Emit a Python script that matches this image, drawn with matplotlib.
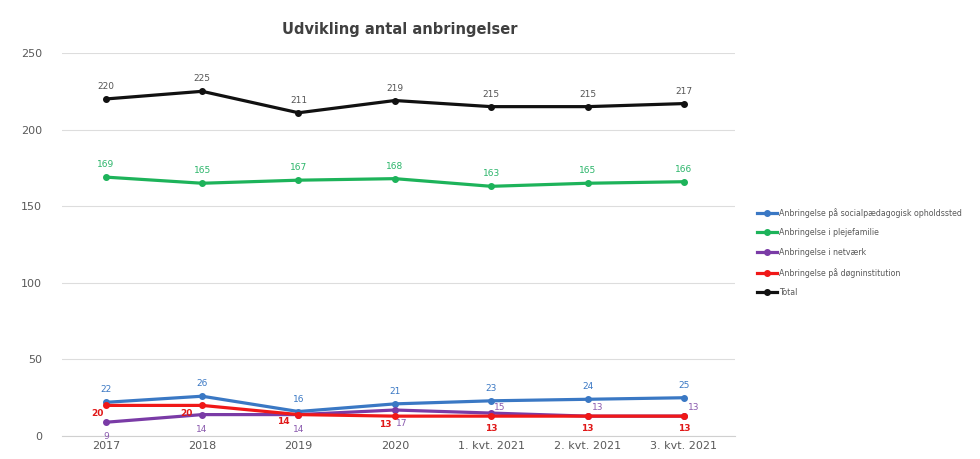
import matplotlib.pyplot as plt

categories = ["2017", "2018", "2019", "2020", "1. kvt. 2021", "2. kvt. 2021", "3. kvt. 2021"]
series_names = [
    "Anbringelse på socialpædagogisk opholdssted",
    "Anbringelse i plejefamilie",
    "Anbringelse i netværk",
    "Anbringelse på døgninstitution",
    "Total",
]
social = [22, 26, 16, 21, 23, 24, 25]
pleje = [169, 165, 167, 168, 163, 165, 166]
netvaerk = [9, 14, 14, 17, 15, 13, 13]
doegn = [20, 20, 14, 13, 13, 13, 13]
total = [220, 225, 211, 219, 215, 215, 217]

colors = ["#3A78C4", "#1DB35A", "#7A3BA6", "#F01818", "#111111"]
label_colors = ["#3A78C4", "#2BB56A", "#8A5AAE", "#E01818", "#555555"]

# label offsets (points) per series per point
above = [(0, 9)] * 7
offsets = [
    above,
    above,
    [(0, -10), (0, -11), (0, -11), (5, -10), (6, 4), (7, 6.5), (7, 6.5)],
    [(-6, -6), (-11, -6), (-11, -5), (-7, -6), (0, -9), (0, -9), (0, -9)],
    above,
]

fig = plt.figure(figsize=(9.8, 4.59), dpi=100)
ax = fig.add_axes([0.063, 0.050, 0.687, 0.8345])

x = list(range(len(categories)))
all_series = [social, pleje, netvaerk, doegn, total]
for i, (name, vals) in enumerate(zip(series_names, all_series)):
    ax.plot(x, vals, color=colors[i], lw=2.3, marker="o", ms=4, label=name, zorder=3)
    for xi, v, off in zip(x, vals, offsets[i]):
        ax.annotate(str(v), (xi, v), xytext=off, textcoords="offset points",
                    ha="center", va="center", fontsize=6.5, color=label_colors[i],
                    fontweight="bold" if i == 3 else "normal", zorder=4)

ax.set_ylim(0, 250)
ax.set_xlim(-0.457, 6.53)
ax.set_yticks(range(0, 251, 50))
ax.set_xticks(x)
ax.set_xticklabels(categories)
ax.grid(axis="y", color="#DDDDDD", lw=0.8)
ax.set_axisbelow(True)
for s in ["top", "right", "left"]:
    ax.spines[s].set_visible(False)
ax.spines["bottom"].set_color("#D0D0D0")
ax.tick_params(axis="both", length=0, labelsize=8, colors="#595959")
ax.tick_params(axis="y", pad=14)

fig.text(0.408, 0.935, "Udvikling antal anbringelser", ha="center", va="center",
         fontsize=10.5, fontweight="bold", color="#404040")

fig.legend(loc="upper left", bbox_to_anchor=(0.765, 0.563), frameon=False,
           fontsize=5.7, labelcolor="#595959", handlelength=2.5, labelspacing=1.35,
           handletextpad=0.3)

fig.savefig("out.png", dpi=100)
